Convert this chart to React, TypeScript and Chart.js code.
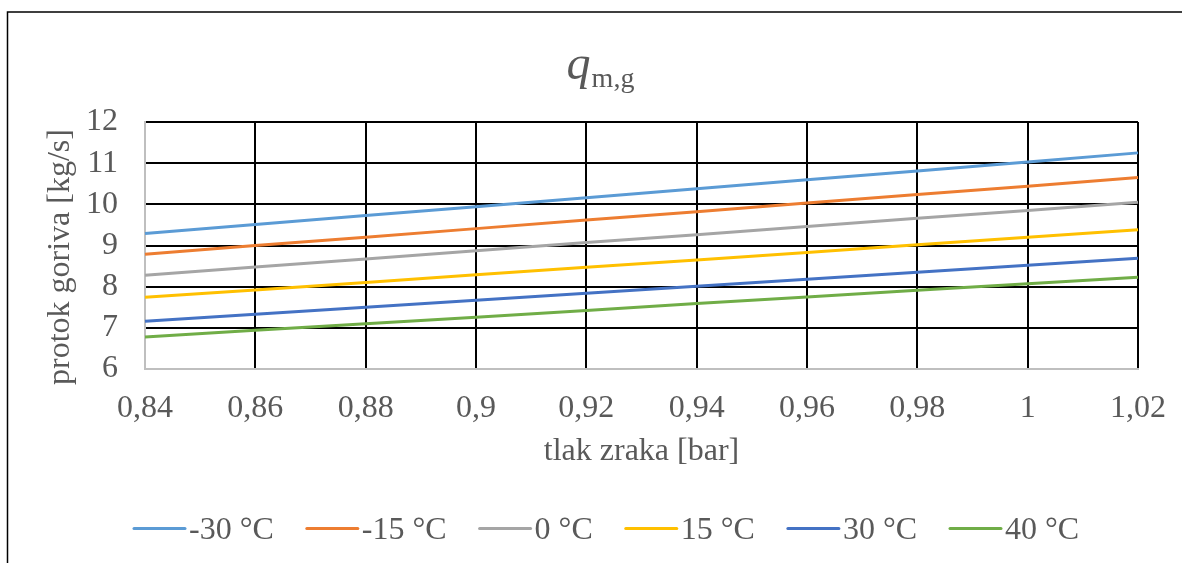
import React, { useEffect, useRef } from 'react';
import { Chart, registerables } from 'chart.js';

Chart.register(...registerables);

// ---- data ----
const pressureLabels = ['0,84', '0,86', '0,88', '0,9', '0,92', '0,94', '0,96', '0,98', '1', '1,02'];
const seriesNames = ['-30 °C', '-15 °C', '0 °C', '15 °C', '30 °C', '40 °C'];
const flowMinus30 = [9.29, 9.51, 9.73, 9.94, 10.16, 10.38, 10.6, 10.81, 11.03, 11.25];
const flowMinus15 = [8.79, 9.0, 9.2, 9.41, 9.62, 9.82, 10.03, 10.24, 10.44, 10.65];
const flowZero = [8.28, 8.48, 8.67, 8.87, 9.07, 9.26, 9.46, 9.66, 9.85, 10.05];
const flowPlus15 = [7.74, 7.92, 8.1, 8.29, 8.47, 8.65, 8.83, 9.02, 9.2, 9.38];
const flowPlus30 = [7.16, 7.33, 7.5, 7.67, 7.84, 8.01, 8.18, 8.35, 8.52, 8.69];
const flowPlus40 = [6.78, 6.94, 7.1, 7.26, 7.42, 7.59, 7.75, 7.91, 8.07, 8.23];
const yMin = 6;
const yMax = 12;
const yStep = 1;

const seriesValues = [flowMinus30, flowMinus15, flowZero, flowPlus15, flowPlus30, flowPlus40];
const seriesColors = ['#5B9BD5', '#ED7D31', '#A5A5A5', '#FFC000', '#4472C4', '#70AD47'];

const FONT = '"Liberation Serif", "Times New Roman", serif';
const TEXT_COLOR = '#595959';

const decorPlugin = {
  id: 'decor',
  afterDraw(chart: any) {
    const ctx = chart.ctx as CanvasRenderingContext2D;
    ctx.save();
    // outer frame
    ctx.strokeStyle = '#000000';
    ctx.lineWidth = 1.5;
    ctx.beginPath();
    ctx.moveTo(7.5, 600);
    ctx.lineTo(7.5, 12);
    ctx.lineTo(1200, 12);
    ctx.stroke();

    // chart title q_{m,g}
    ctx.fillStyle = TEXT_COLOR;
    ctx.textBaseline = 'alphabetic';
    ctx.textAlign = 'left';
    const qFont = `italic 48px ${FONT}`;
    const subFont = `28px ${FONT}`;
    ctx.font = qFont;
    const wq = ctx.measureText('q').width;
    ctx.font = subFont;
    const ws = ctx.measureText('m,g').width;
    const startX = 600 - (wq + ws) / 2;
    ctx.font = qFont;
    ctx.fillText('q', startX, 79);
    ctx.font = subFont;
    ctx.fillText('m,g', startX + wq + 1, 87);

    // y axis title
    ctx.save();
    ctx.translate(61, 257);
    ctx.rotate(-Math.PI / 2);
    ctx.font = `32px ${FONT}`;
    ctx.textAlign = 'center';
    ctx.textBaseline = 'middle';
    ctx.fillText('protok goriva [kg/s]', 0, 0);
    ctx.restore();

    // legend
    ctx.font = `32px ${FONT}`;
    ctx.textAlign = 'left';
    ctx.textBaseline = 'alphabetic';
    let x = 134;
    const ly = 528.5;
    seriesNames.forEach((name, i) => {
      ctx.strokeStyle = seriesColors[i];
      ctx.lineWidth = 3;
      ctx.lineCap = 'round';
      ctx.beginPath();
      ctx.moveTo(x, ly);
      ctx.lineTo(x + 51, ly);
      ctx.stroke();
      const tx = x + 55;
      ctx.fillStyle = TEXT_COLOR;
      ctx.fillText(name, tx, 539);
      x = tx + ctx.measureText(name).width + 33;
    });
    ctx.restore();
  },
};

export default function App() {
  const canvasRef = useRef<HTMLCanvasElement | null>(null);

  useEffect(() => {
    const canvas = canvasRef.current;
    if (!canvas) return;
    const chart = new Chart(canvas, {
      type: 'line',
      data: {
        labels: pressureLabels,
        datasets: seriesNames.map((name, i) => ({
          label: name,
          data: seriesValues[i],
          borderColor: seriesColors[i],
          backgroundColor: seriesColors[i],
          borderWidth: 3,
          pointRadius: 0,
          tension: 0,
          fill: false,
        })),
      },
      options: {
        responsive: false,
        animation: false,
        devicePixelRatio: 1,
        layout: { padding: { top: 122, right: 44, left: 0, bottom: 0 } },
        plugins: {
          legend: { display: false },
          title: { display: false },
          tooltip: { enabled: false },
        },
        scales: {
          x: {
            type: 'category',
            offset: false,
            grid: {
              offset: false,
              drawTicks: false,
              tickLength: 0,
              lineWidth: 2,
              color: (c: any) => (c.index === 0 ? '#BFBFBF' : '#000000'),
            },
            border: { display: true, color: '#BFBFBF', width: 2 },
            ticks: {
              autoSkip: false,
              maxRotation: 0,
              padding: 20,
              color: TEXT_COLOR,
              font: { family: FONT, size: 32 },
            },
            title: {
              display: true,
              text: 'tlak zraka [bar]',
              color: TEXT_COLOR,
              font: { family: FONT, size: 32 },
              padding: { top: 0, bottom: 92 },
            },
            afterFit: (scale: any) => {
              scale.height = 194;
              scale.paddingLeft = 0;
              scale.paddingRight = 0;
            },
          },
          y: {
            min: yMin,
            max: yMax,
            grid: {
              drawTicks: false,
              tickLength: 0,
              lineWidth: 2,
              color: (c: any) => (c.index === 0 ? '#BFBFBF' : '#000000'),
            },
            border: { display: true, color: '#BFBFBF', width: 2 },
            ticks: {
              stepSize: yStep,
              autoSkip: false,
              padding: 27,
              color: TEXT_COLOR,
              font: { family: FONT, size: 32 },
            },
            title: { display: false },
            afterFit: (scale: any) => {
              scale.width = 145;
              scale.paddingTop = 0;
              scale.paddingBottom = 0;
            },
          },
        },
      },
      plugins: [decorPlugin],
    });
    return () => chart.destroy();
  }, []);

  return (
    <div style={{ position: 'fixed', left: 0, top: 0, width: 1182, height: 563, background: '#ffffff' }}>
      <canvas ref={canvasRef} width={1182} height={563} style={{ width: 1182, height: 563, display: 'block' }} />
    </div>
  );
}
